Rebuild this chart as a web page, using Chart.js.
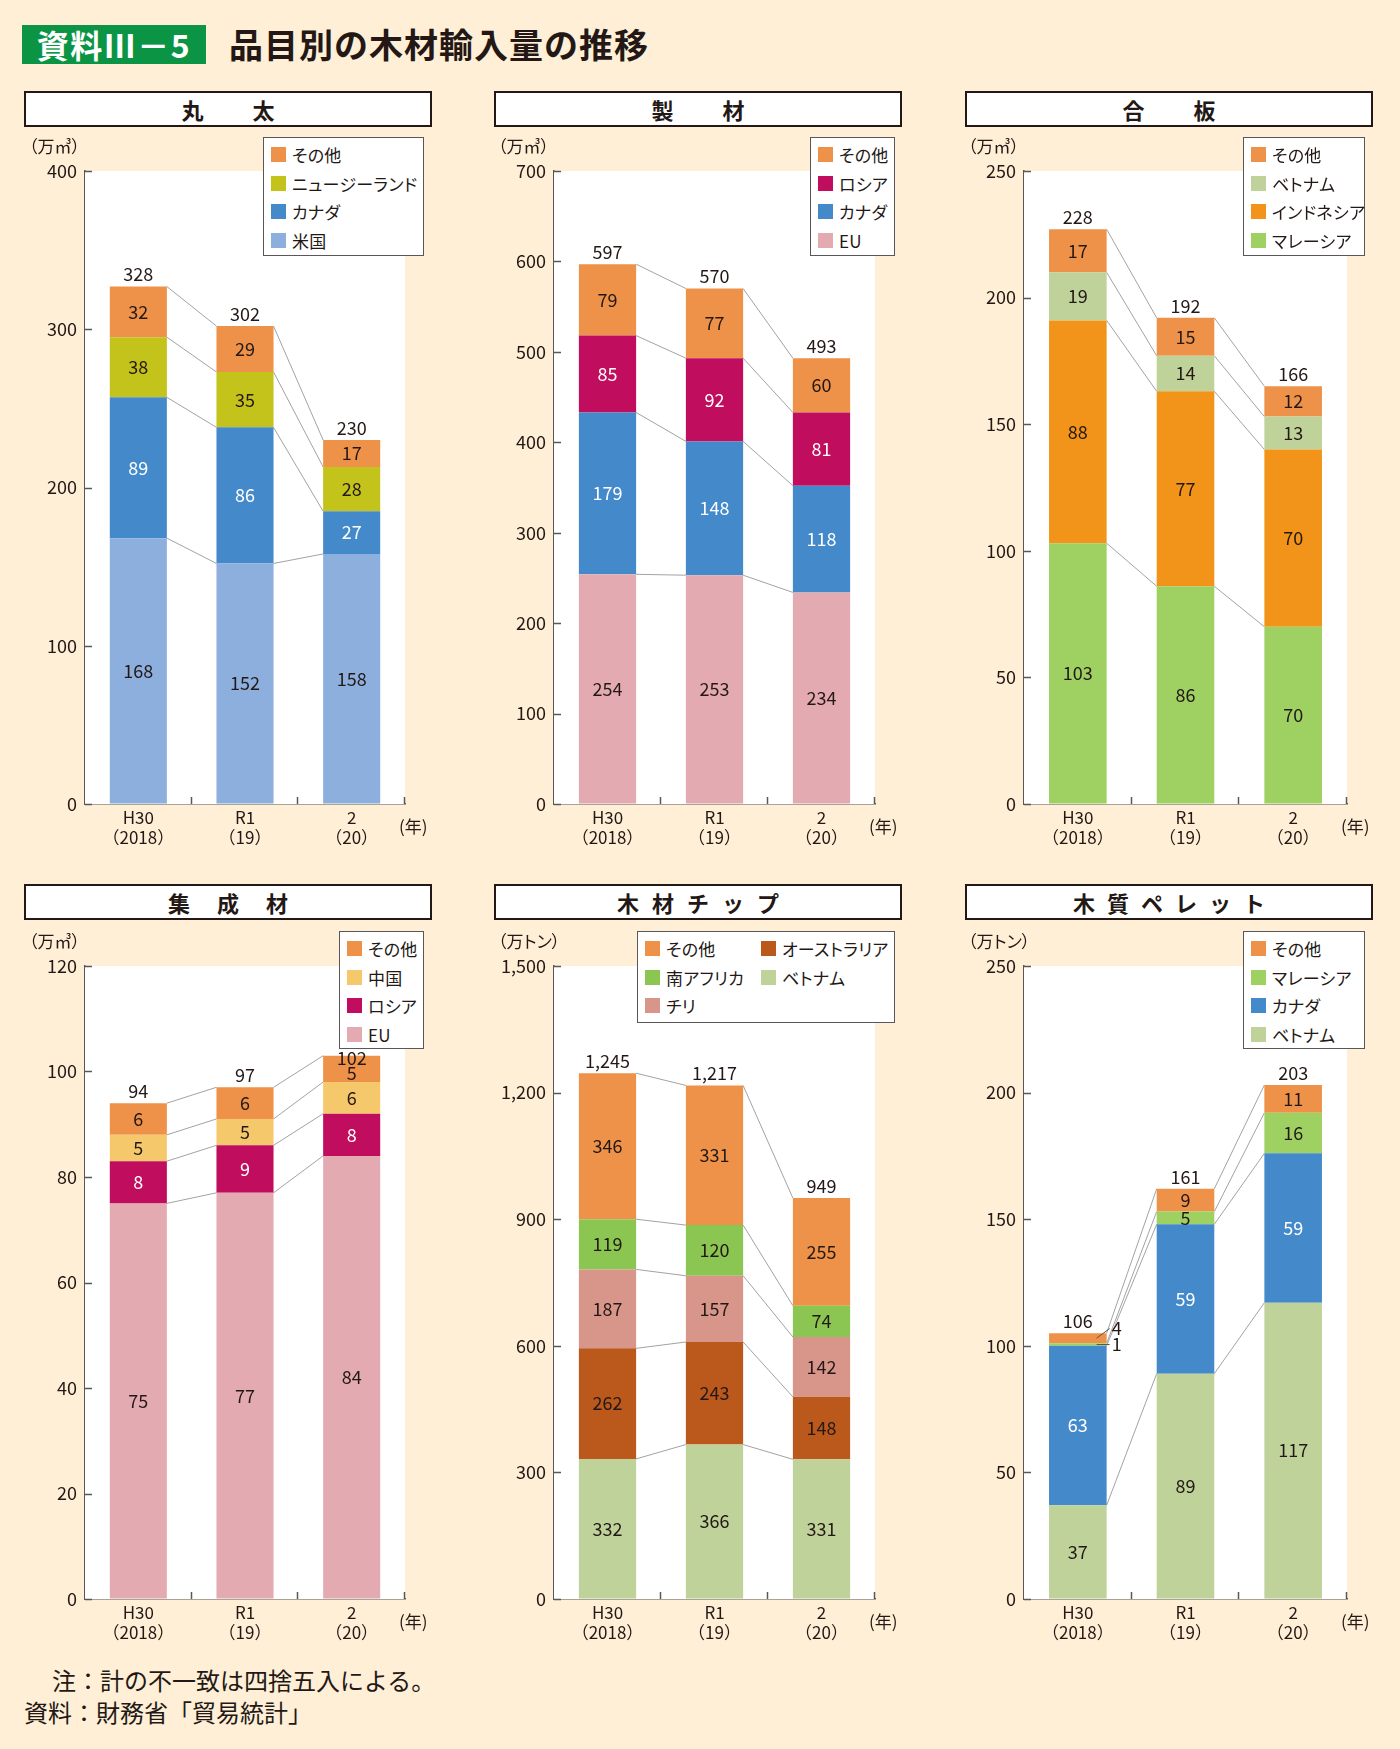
<!DOCTYPE html>
<html><head><meta charset="utf-8">
<script src="https://cdn.jsdelivr.net/npm/chart.js@4"></script>
<style>
body{margin:0;background:#FEEFD6;width:1400px;height:1749px;position:relative;overflow:hidden;font-family:"Noto Sans CJK JP","Noto Sans",sans-serif;color:#231815}
.abs{position:absolute}
canvas{position:absolute}
.badge{left:22px;top:25px;width:184px;height:39px;background:#0B9444;color:#fff;font-weight:700;font-size:32px;line-height:39px;text-align:center;letter-spacing:1.5px}
.main{left:229px;top:21px;font-size:34px;font-weight:700;line-height:46px;letter-spacing:1px}
.ptitle{box-sizing:border-box;border:2px solid #231815;background:#fff;height:36px;font-weight:700;font-size:22px;line-height:32px;text-align:center}
.unit{font-size:17px;line-height:20px;font-feature-settings:"palt"}
.legend{box-sizing:border-box;border:1.5px solid #595757;background:#fff;padding-top:2px}
.li{height:28.7px;display:flex;align-items:center;font-size:17px;white-space:nowrap;font-feature-settings:"palt";letter-spacing:0.3px}
.sw{width:15px;height:15px;margin-right:6px;flex:none}
.note{font-size:24px;line-height:30px;white-space:nowrap}
</style>
</head><body>
<div class="abs badge">資料Ⅲ－5</div>
<div class="abs main">品目別の木材輸入量の推移</div>
<div id="overlay"></div>
<div class="abs note" style="left:52px;top:1665px">注：計の不一致は四捨五入による。</div>
<div class="abs note" style="left:24px;top:1697px">資料：財務省「貿易統計」</div>
<script>
// ---- categories ----
const years = [['H30','（2018）'],['R1','（19）'],['2','（20）']];
const yearUnit = '(年)';

// ---- 丸太 (万㎥) ----
const logNames = ['米国','カナダ','ニュージーランド','その他'];
const logUS = [168,152,158];
const logCanada = [89,86,27];
const logNZ = [38,35,28];
const logOther = [32,29,17];
const logTotal = [328,302,230];
const logTicks = [0,100,200,300,400];

// ---- 製材 (万㎥) ----
const lumNames = ['EU','カナダ','ロシア','その他'];
const lumEU = [254,253,234];
const lumCanada = [179,148,118];
const lumRussia = [85,92,81];
const lumOther = [79,77,60];
const lumTotal = [597,570,493];
const lumTicks = [0,100,200,300,400,500,600,700];

// ---- 合板 (万㎥) ----
const plyNames = ['マレーシア','インドネシア','ベトナム','その他'];
const plyMalaysia = [103,86,70];
const plyIndonesia = [88,77,70];
const plyVietnam = [19,14,13];
const plyOther = [17,15,12];
const plyTotal = [228,192,166];
const plyTicks = [0,50,100,150,200,250];

// ---- 集成材 (万㎥) ----
const glNames = ['EU','ロシア','中国','その他'];
const glEU = [75,77,84];
const glRussia = [8,9,8];
const glChina = [5,5,6];
const glOther = [6,6,5];
const glTotal = [94,97,102];
const glTicks = [0,20,40,60,80,100,120];

// ---- 木材チップ (万トン) ----
const chipNames = ['ベトナム','オーストラリア','チリ','南アフリカ','その他'];
const chipVietnam = [332,366,331];
const chipAustralia = [262,243,148];
const chipChile = [187,157,142];
const chipSAfrica = [119,120,74];
const chipOther = [346,331,255];
const chipTotal = [1245,1217,949];
const chipTicks = [0,300,600,900,1200,1500];

// ---- 木質ペレット (万トン) ----
const pelNames = ['ベトナム','カナダ','マレーシア','その他'];
const pelVietnam = [37,89,117];
const pelCanada = [63,59,59];
const pelMalaysia = [1,5,16];
const pelOther = [4,9,11];
const pelTotal = [106,161,203];
const pelTicks = [0,50,100,150,200,250];

// ---- styles ----
const C = {
  other:'#EE9249', nz:'#C3C31B', canada:'#448ACA', us:'#8DAFDD',
  russia:'#C00D5D', eu:'#E3ABB1', vietnam:'#BFD29A', indonesia:'#F29419',
  malaysia:'#9FD062', china:'#F6C86C', australia:'#BB581C', safrica:'#8CC652', chile:'#D8968A'
};
const INK = '#231815', AXIS = '#595757';

const panels = [
  {title:'丸太', ls:49, unit:'（万㎥）', col:0, row:0, ticks:logTicks, totals:logTotal,
   series:[[logNames[0],logUS,C.us,false],[logNames[1],logCanada,C.canada,true],[logNames[2],logNZ,C.nz,false],[logNames[3],logOther,C.other,false]],
   legend:{x:263,y:137,w:161,h:119}},
  {title:'製材', ls:49, unit:'（万㎥）', col:1, row:0, ticks:lumTicks, totals:lumTotal,
   series:[[lumNames[0],lumEU,C.eu,false],[lumNames[1],lumCanada,C.canada,true],[lumNames[2],lumRussia,C.russia,true],[lumNames[3],lumOther,C.other,false]],
   legend:{x:810,y:137,w:85,h:119}},
  {title:'合板', ls:49, unit:'（万㎥）', col:2, row:0, ticks:plyTicks, totals:plyTotal,
   series:[[plyNames[0],plyMalaysia,C.malaysia,false],[plyNames[1],plyIndonesia,C.indonesia,false],[plyNames[2],plyVietnam,C.vietnam,false],[plyNames[3],plyOther,C.other,false]],
   legend:{x:1243,y:137,w:122,h:119}},
  {title:'集成材', ls:27, unit:'（万㎥）', col:0, row:1, ticks:glTicks, totals:glTotal,
   series:[[glNames[0],glEU,C.eu,false],[glNames[1],glRussia,C.russia,true],[glNames[2],glChina,C.china,false],[glNames[3],glOther,C.other,false]],
   legend:{x:339,y:931,w:85,h:118}},
  {title:'木材チップ', ls:13, unit:'（万トン）', col:1, row:1, ticks:chipTicks, totals:chipTotal,
   series:[[chipNames[0],chipVietnam,C.vietnam,false],[chipNames[1],chipAustralia,C.australia,false],[chipNames[2],chipChile,C.chile,false],[chipNames[3],chipSAfrica,C.safrica,false],[chipNames[4],chipOther,C.other,false]],
   legend:{x:637,y:931,w:258,h:92,cols:2}},
  {title:'木質ペレット', ls:12, unit:'（万トン）', col:2, row:1, ticks:pelTicks, totals:pelTotal,
   series:[[pelNames[0],pelVietnam,C.vietnam,false],[pelNames[1],pelCanada,C.canada,true],[pelNames[2],pelMalaysia,C.malaysia,false],[pelNames[3],pelOther,C.other,false]],
   legend:{x:1243,y:931,w:122,h:118}}
];

const colAxisX = [85, 554, 1024];
const colPlotW = [320, 321, 323];
const colBoxX = [24, 494, 965];
const rowPlotTop = [171, 966];
const rowBoxY = [91, 884];
const PLOT_H = 633, PAD_L = 70, PAD_T = 40, PAD_R = 55, X_H = 60;

Chart.defaults.font.family = '"Noto Sans CJK JP","Noto Sans",sans-serif';
Chart.defaults.color = INK;

const overlay = document.getElementById('overlay');
function el(tag, cls, style, html){const e=document.createElement(tag);if(cls)e.className=cls;if(style)e.setAttribute('style',style);if(html!=null)e.innerHTML=html;return e;}

const panelPlugin = {
  id:'panelPlugin',
  beforeDatasetsDraw(chart){
    const {ctx, chartArea:a} = chart;
    ctx.save();
    ctx.fillStyle = '#fff';
    ctx.fillRect(a.left, a.top, a.right-a.left, a.bottom-a.top);
    ctx.strokeStyle = '#A3A3A3'; ctx.lineWidth = 1;
    chart.data.datasets.forEach((ds, d) => {
      const meta = chart.getDatasetMeta(d);
      for (let i = 0; i < meta.data.length-1; i++) {
        const b1 = meta.data[i], b2 = meta.data[i+1];
        ctx.beginPath();
        ctx.moveTo(b1.x + b1.width/2, b1.y);
        ctx.lineTo(b2.x - b2.width/2, b2.y);
        ctx.stroke();
      }
    });
    ctx.restore();
  },
  afterDatasetsDraw(chart, args, opts){
    const {ctx, chartArea:a, scales} = chart;
    ctx.save();
    ctx.strokeStyle = AXIS; ctx.lineWidth = 1.5;
    scales.y.ticks.forEach(t => {
      const y = Math.round(scales.y.getPixelForValue(t.value)) + 0.5;
      ctx.beginPath(); ctx.moveTo(a.left, y); ctx.lineTo(a.left+7, y); ctx.stroke();
    });
    const n = chart.data.labels.length;
    for (let i = 1; i <= n; i++) {
      const x = Math.round(a.left + i*(a.right-a.left)/n) - 0.5;
      ctx.beginPath(); ctx.moveTo(x, a.bottom); ctx.lineTo(x, a.bottom-7); ctx.stroke();
    }
    const nd = chart.data.datasets.length;
    const lastMeta = chart.getDatasetMeta(nd-1);
    const lr = opts.legendRect;
    const totalY = lastMeta.data.map(b => {
      let y = b.y - 12;
      if (b.x + 18 > lr.left && b.x - 18 < lr.right && y - 9 < lr.bottom) y = lr.bottom + 9;
      return y;
    });
    ctx.font = '18px "Noto Sans CJK JP"';
    ctx.textAlign = 'center'; ctx.textBaseline = 'middle';
    const lastOut = {};
    chart.data.datasets.forEach((ds, d) => {
      const meta = chart.getDatasetMeta(d);
      meta.data.forEach((b, i) => {
        const v = ds.data[i];
        const h = Math.abs(b.base - b.y);
        if (h < 12) {
          let y = (b.y + b.base)/2;
          if (lastOut[i] != null && y > lastOut[i] - 16) y = lastOut[i] - 16;
          lastOut[i] = y;
          const bx = b.x + b.width/2;
          ctx.strokeStyle = '#555'; ctx.lineWidth = 1;
          ctx.beginPath(); ctx.moveTo(bx-10, (b.y+b.base)/2); ctx.lineTo(bx+3, y); ctx.stroke();
          ctx.fillStyle = INK; ctx.textAlign = 'left';
          ctx.fillText(String(v), bx+5, y);
          ctx.textAlign = 'center';
        } else {
          let y = (b.y + b.base)/2;
          if (d === nd-1) y = Math.max(y, Math.min(totalY[i] + 18, b.base - 9));
          ctx.fillStyle = opts.white[d] ? '#fff' : INK;
          ctx.fillText(String(v), b.x, y);
        }
      });
    });
    ctx.fillStyle = INK;
    lastMeta.data.forEach((b, i) => {
      ctx.fillText(opts.totals[i].toLocaleString('en-US'), b.x, totalY[i]);
    });
    ctx.font = '17px "Noto Sans CJK JP"';
    ctx.textAlign = 'left';
    ctx.fillText(yearUnit, a.right - 6, a.bottom + 23);
    ctx.restore();
  }
};

panels.forEach((p, k) => {
  const axisX = colAxisX[p.col], plotTop = rowPlotTop[p.row], PLOT_W = colPlotW[p.col];
  const tb = el('div','abs ptitle',`left:${colBoxX[p.col]}px;top:${rowBoxY[p.row]}px;width:408px;letter-spacing:${p.ls}px;padding-left:${p.ls}px`, p.title);
  overlay.appendChild(tb);
  overlay.appendChild(el('div','abs unit',`left:${axisX-56}px;top:${plotTop-35}px`, p.unit));
  const cv = document.createElement('canvas');
  const W = PAD_L + PLOT_W + PAD_R, H = PAD_T + PLOT_H + X_H;
  const cl = axisX - PAD_L, ct = plotTop - PAD_T;
  cv.width = W; cv.height = H;
  cv.style.left = cl + 'px'; cv.style.top = ct + 'px';
  cv.style.width = W + 'px'; cv.style.height = H + 'px';
  document.body.insertBefore(cv, overlay);
  const max = p.ticks[p.ticks.length-1], step = p.ticks[1]-p.ticks[0];
  const lg = p.legend;
  new Chart(cv, {
    type:'bar',
    data:{
      labels: years,
      datasets: p.series.map(s => ({label:s[0], data:s[1], backgroundColor:s[2], borderWidth:0, barPercentage:1, categoryPercentage:0.535}))
    },
    options:{
      responsive:false, animation:false, devicePixelRatio:1,
      layout:{padding:{left:0, top:PAD_T, right:PAD_R, bottom:0}},
      plugins:{legend:{display:false}, tooltip:{enabled:false},
        panelPlugin:{totals:p.totals, white:p.series.map(s=>s[3]),
          legendRect:{left:lg.x-cl, right:lg.x+lg.w-cl, bottom:lg.y+lg.h-ct}}},
      scales:{
        x:{stacked:true, grid:{drawOnChartArea:false, drawTicks:false}, border:{display:true, color:AXIS, width:1.5},
           ticks:{font:{size:17}, padding:3, maxRotation:0, autoSkip:false, color:INK},
           afterFit(s){ s.height = X_H; }},
        y:{stacked:true, min:0, max:max, grid:{drawOnChartArea:false, drawTicks:false}, border:{display:true, color:AXIS, width:1.5},
           ticks:{stepSize:step, font:{size:18}, padding:8, color:INK, callback:v=>Number(v).toLocaleString('en-US')},
           afterFit(s){ s.width = PAD_L; }}
      }
    },
    plugins:[panelPlugin]
  });
  const box = el('div','abs legend',`left:${lg.x}px;top:${lg.y}px;width:${lg.w}px;height:${lg.h}px;padding-left:7px`);
  const items = p.series.slice().reverse();
  if (lg.cols === 2) {
    box.style.display='grid'; box.style.gridTemplateColumns='116px 1fr'; box.style.gridAutoFlow='column'; box.style.gridTemplateRows='repeat(3,28.7px)';
  }
  items.forEach(s => {
    const li = el('div','li',null,null);
    li.appendChild(el('span','sw',`background:${s[2]}`));
    li.appendChild(el('span',null,null,s[0]));
    box.appendChild(li);
  });
  overlay.appendChild(box);
});
</script>
</body></html>
